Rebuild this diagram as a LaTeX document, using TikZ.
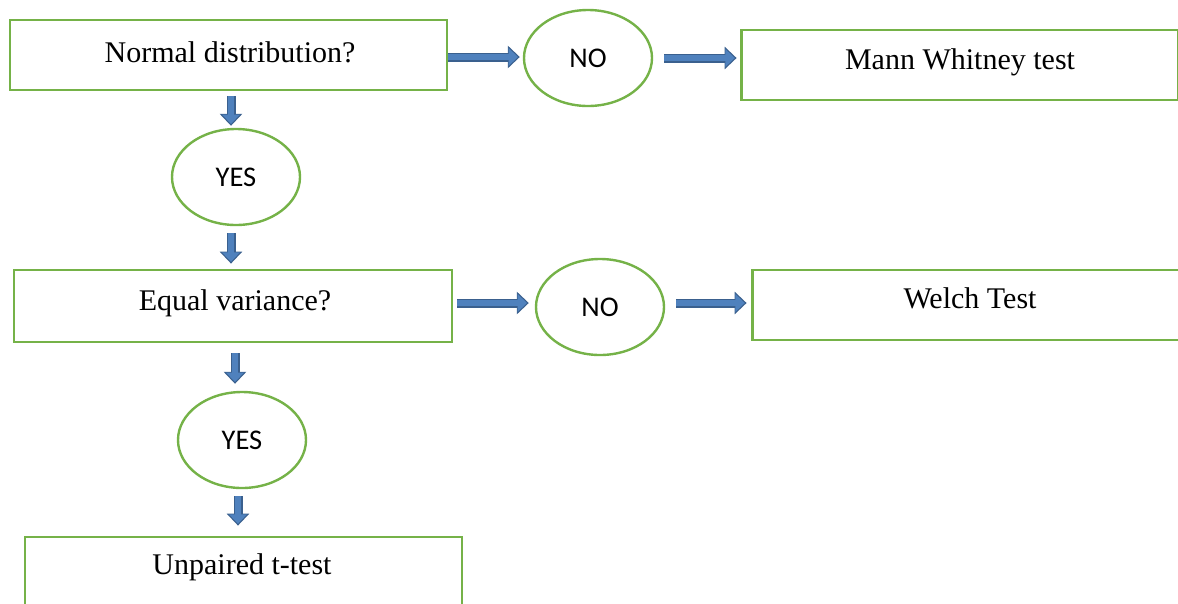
\documentclass[tikz,border=0pt]{standalone}
\usepackage{fontspec}
\setmainfont{Liberation Serif}
\newfontfamily\calib{Carlito}
\usetikzlibrary{arrows.meta,shapes.geometric,calc}
\definecolor{boxgreen}{RGB}{117,178,72}
\definecolor{arrblue}{RGB}{79,129,189}
\definecolor{arrdark}{RGB}{58,96,142}
\tikzset{
  x=1pt, y=-1pt,
  procbox/.style={draw=boxgreen, line width=2.8pt, fill=white, minimum width=#1, minimum height=70pt, inner sep=0pt},
  boxtext/.style={font=\fontsize{30}{34}\selectfont, inner sep=0pt},
  answer/.style={draw=boxgreen, line width=2.4pt, ellipse, minimum width=128pt, minimum height=96pt, inner sep=0pt, font=\calib\fontsize{28.5}{32}\selectfont},
  arrout/.style={draw=arrdark, line width=9pt, -{Triangle[width=22pt,length=12pt]}},
  arrin/.style={draw=arrblue, line width=6.6pt, shorten >=1.8pt, -{Triangle[width=17.5pt,length=9.5pt]}},
}
\newcommand\blockarr[3][]{\draw[arrout,#1] #2 -- #3; \draw[arrin,#1] #2 -- #3;}
\begin{document}
\begin{tikzpicture}
\useasboundingbox (0,0) rectangle (1178,603);
% boxes
\node[procbox=437pt] (normal) at (228.5,55) {};
\node[boxtext] (normalt) at (230,52) {Normal distribution?};
\node[answer] (no1) at (588,58) {NO};
\node[procbox=437pt] (mann) at (960,65) {};
\node[boxtext] (mannt) at (960,62) {Mann Whitney test};
\node[answer] (yes1) at (236,177) {YES};
\node[procbox=438pt, minimum height=72pt] (equal) at (233,306) {};
\node[boxtext] (equalt) at (235,303) {Equal variance?};
\node[answer] (no2) at (600,307) {NO};
\node[procbox=437pt] (welch) at (971,305) {};
\node[boxtext] (welcht) at (970,298) {Welch Test};
\node[answer] (yes2) at (242,440) {YES};
\node[procbox=437pt] (unpaired) at (243.5,572) {};
\node[boxtext] (unpairedt) at (242,567) {Unpaired t-test};
% arrows
\blockarr{($(normal.east)+(0,2)$)}{($(no1.west |- normal.east)+(-3,2)$)}
\blockarr[shorten <=11pt]{(no1.east)}{($(mann.west |- no1.east)+(-3.5,0)$)}
\blockarr[shorten <=5pt]{($(yes1.north |- normal.south)+(-5,0)$)}{($(yes1.north)+(-5,-2)$)}
\blockarr[shorten <=7pt]{($(yes1.south)+(-5,0)$)}{($(yes1.south |- equal.north)+(-5,-5)$)}
\blockarr[shorten <=4pt]{($(equal.east)+(0,-3)$)}{($(no2.west |- equal.east)+(-6,-3)$)}
\blockarr[shorten <=11pt]{($(no2.east)+(0,-4)$)}{($(welch.west |- no2.east)+(-4.5,-4)$)}
\blockarr[shorten <=10pt]{($(yes2.north |- equal.south)+(-7,0)$)}{($(yes2.north)+(-7,-7)$)}
\blockarr[shorten <=7pt]{($(yes2.south)+(-4,0)$)}{($(yes2.south |- unpaired.north)+(-4,-10)$)}
\end{tikzpicture}
\end{document}
